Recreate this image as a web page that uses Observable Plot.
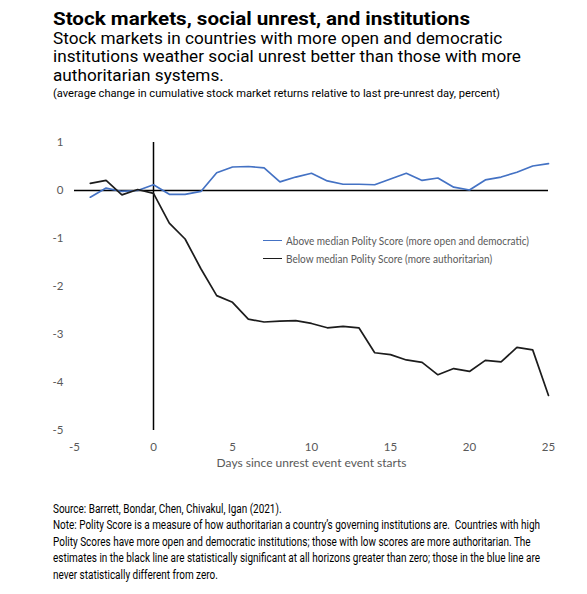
<!DOCTYPE html>
<html><head><meta charset="utf-8">
<script src="https://cdn.jsdelivr.net/npm/d3@7"></script>
<script src="https://cdn.jsdelivr.net/npm/@observablehq/plot@0.6"></script>
<style>
body{margin:0;background:#fff;}
#wrap{position:relative;width:587px;height:594px;overflow:hidden;font-family:Roboto,sans-serif;color:#000;background:#fff;}
.t{position:absolute;left:53px;white-space:pre;transform-origin:0 0;}
#chart{position:absolute;left:0;top:108px;}
.leg{position:absolute;left:263px;height:18px;display:flex;align-items:center;white-space:nowrap;font-family:Lato,sans-serif;font-size:11.5px;color:#595959;}
.leg .sw{display:inline-block;width:19px;height:0;margin-right:4px;}
.leg .lt{display:inline-block;transform-origin:0 50%;}
</style></head><body><div id="wrap"></div>
<script>
// ---- data ----
const days = [-4,-3,-2,-1,0,1,2,3,4,5,6,7,8,9,10,11,12,13,14,15,16,17,18,19,20,21,22,23,24,25];
const aboveMedian = [-0.14,0.05,-0.02,0.00,0.12,-0.08,-0.08,-0.02,0.37,0.49,0.50,0.47,0.18,0.28,0.36,0.20,0.13,0.13,0.12,0.24,0.36,0.21,0.26,0.07,0.01,0.22,0.28,0.38,0.51,0.56];
const belowMedian = [0.15,0.21,-0.09,0.02,-0.06,-0.68,-1.01,-1.63,-2.19,-2.33,-2.68,-2.74,-2.72,-2.71,-2.77,-2.86,-2.83,-2.86,-3.38,-3.42,-3.53,-3.58,-3.84,-3.71,-3.77,-3.54,-3.57,-3.27,-3.32,-4.27];
const seriesNames = ["Above median Polity Score (more open and democratic)","Below median Polity Score (more authoritarian)"];
const seriesColors = ["#4472C4","#1c1c1c"];
const xTicks = [-5,0,5,10,15,20,25];
const yTicks = [1,0,-1,-2,-3,-4,-5];
const xLabel = "Days since unrest event event starts";
const titleText = "Stock markets, social unrest, and institutions";
const subtitleLines = ["Stock markets in countries with more open and democratic","institutions weather social unrest better than those with more","authoritarian systems."];
const unitText = "(average change in cumulative stock market returns relative to last pre-unrest day, percent)";
const footerLines = [
  "Source: Barrett, Bondar, Chen, Chivakul, Igan (2021).",
  "Note: Polity Score is a measure of how authoritarian a country\u2019s governing institutions are.  Countries with high",
  "Polity Scores have more open and democratic institutions; those with low scores are more authoritarian. The",
  "estimates in the black line are statistically significant at all horizons greater than zero; those in the blue line are",
  "never statistically different from zero."
];

const rows = days.flatMap((d,i)=>[
  {day:d, value:aboveMedian[i], series:seriesNames[0]},
  {day:d, value:belowMedian[i], series:seriesNames[1]}
]);

const wrap = document.getElementById("wrap");

function addText(txt, fs, baseline, weight, family){
  const el = document.createElement("div");
  el.className = "t";
  el.textContent = txt;
  el.style.fontSize = fs+"px";
  el.style.lineHeight = fs+"px";
  el.style.fontWeight = weight||400;
  if (family) el.style.fontFamily = family;
  // Roboto metrics: ascent .9277, descent .2441
  el.style.top = (baseline - ((fs - 1.1719*fs)/2 + 0.9277*fs)) + "px";
  wrap.appendChild(el);
  return el;
}
function scaleTo(el, w){
  const r = el.getBoundingClientRect().width;
  const s = w/r;
  el.style.transform = `scaleX(${s})`;
  return s;
}

// header
const tEl = addText(titleText, 19, 25, 700);
scaleTo(tEl, 417);
const subEls = subtitleLines.map((s,i)=>addText(s, 16.5, 45 + i*18.3, 400));
const sSub = subEls[1].getBoundingClientRect().width;
const subScale = 468/sSub;
subEls.forEach(e=>e.style.transform=`scaleX(${subScale})`);
const uEl = addText(unitText, 11.5, 98, 400);
scaleTo(uEl, 447);

// chart
const chart = Plot.plot({
  width: 587,
  height: 372,
  marginTop: 34,
  marginBottom: 50,
  marginLeft: 74,
  marginRight: 39,
  x: {domain: [-5, 25]},
  y: {domain: [-5, 1]},
  color: {domain: seriesNames, range: seriesColors},
  style: {fontFamily: "Lato, sans-serif", fontSize: "11.5px", color: "#595959", background: "white", overflow: "visible"},
  marks: [
    Plot.axisY({ticks: yTicks, tickSize: 0, tickPadding: 11, label: null, fill: "#595959", tickFormat: d => String(d)}),
    Plot.axisX({ticks: xTicks, tickSize: 0, tickPadding: 12, label: null, fill: "#595959", tickFormat: d => String(d)}),
    Plot.ruleY([0], {stroke: "black", strokeWidth: 1.5}),
    Plot.ruleX([0], {stroke: "black", strokeWidth: 1.5}),
    Plot.line(rows, {x: "day", y: "value", z: "series", stroke: "series", strokeWidth: 1.7, strokeLinejoin: "miter"}),
    Plot.text([xLabel], {text: d => d, frameAnchor: "bottom", dy: 36, fill: "#595959", fontSize: 12})
  ]
});
chart.id = "chart";
wrap.appendChild(chart);

// legend
seriesNames.forEach((name,i)=>{
  const row = document.createElement("div");
  row.className = "leg";
  row.style.top = (240 + i*18 - 9) + "px";
  const sw = document.createElement("span");
  sw.className = "sw";
  sw.style.borderTop = `1.7px solid ${seriesColors[i]}`;
  const lt = document.createElement("span");
  lt.className = "lt";
  lt.textContent = name;
  row.appendChild(sw); row.appendChild(lt);
  wrap.appendChild(row);
  if (i===0) { window._legScale = 243/lt.getBoundingClientRect().width; }
  lt.style.transform = `scaleX(${window._legScale})`;
});

// footer
const fEls = footerLines.map((s,i)=>addText(s, 12, 513 + i*16.5, 400));
const fScale = 487/fEls[1].getBoundingClientRect().width;
fEls.forEach(e=>e.style.transform=`scaleX(${fScale})`);
</script>
</body></html>
